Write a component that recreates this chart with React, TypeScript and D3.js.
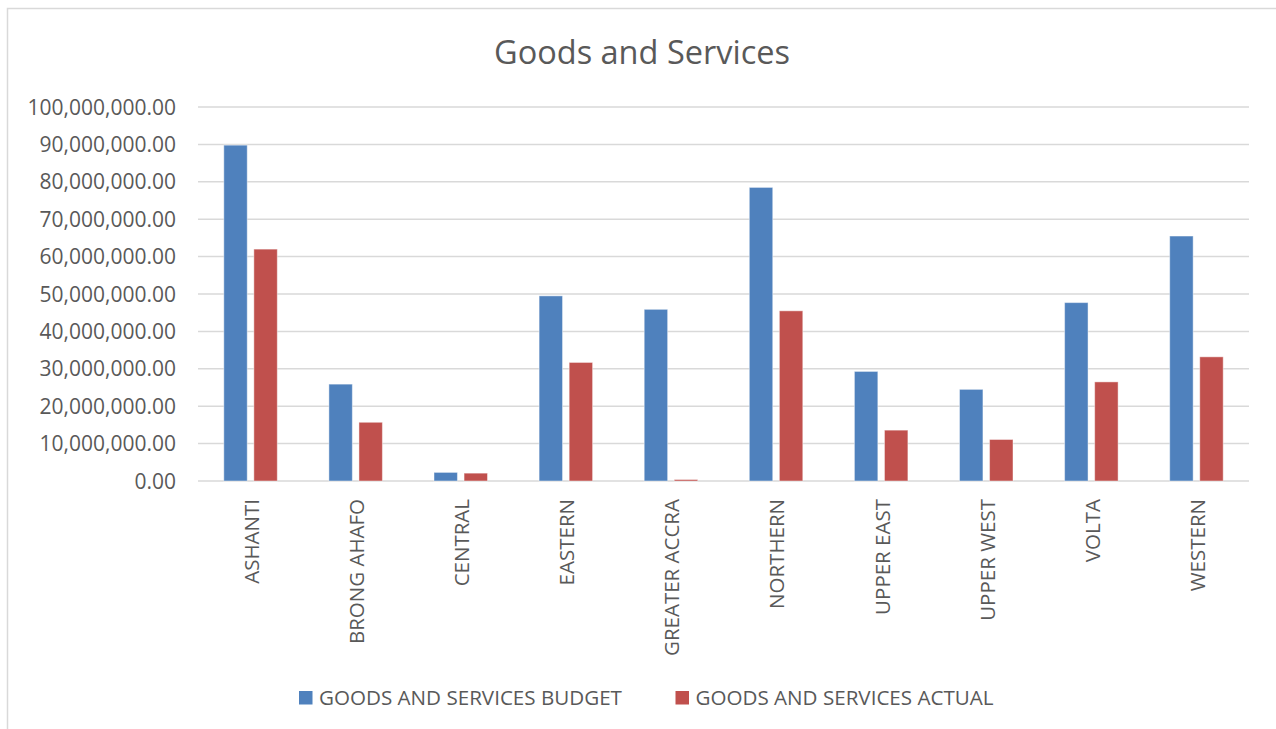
import React from "react";
import * as d3 from "d3";

const categories = ["ASHANTI", "BRONG AHAFO", "CENTRAL", "EASTERN", "GREATER ACCRA", "NORTHERN", "UPPER EAST", "UPPER WEST", "VOLTA", "WESTERN"];
const budget = [89.8e6, 25.9e6, 2.3e6, 49.5e6, 45.9e6, 78.5e6, 29.3e6, 24.5e6, 47.7e6, 65.5e6];
const actual = [62.0e6, 15.7e6, 2.1e6, 31.7e6, 0.4e6, 45.5e6, 13.6e6, 11.1e6, 26.5e6, 33.2e6];
const yTicks = [0, 10e6, 20e6, 30e6, 40e6, 50e6, 60e6, 70e6, 80e6, 90e6, 100e6];
const seriesNames = ["GOODS AND SERVICES BUDGET", "GOODS AND SERVICES ACTUAL"];
const colors = ["#4F81BD", "#C0504D"];
const title = "Goods and Services";

const W = 1276, H = 729;
const FONT = "'Open Sans', sans-serif";
const TXT = "#595959";

export default function App() {
  const x = d3.scaleBand<string>().domain(categories).range([198, 1249]).paddingInner(0).paddingOuter(0);
  const y = d3.scaleLinear().domain([0, 100e6]).range([481, 107]);
  const bw = x.bandwidth();
  const barW = bw * 0.223;
  const gap = bw * 0.063;
  const fmt = d3.format(",.2f");
  const series = [budget, actual];

  return (
    <svg width={W} height={H} style={{ position: "absolute", left: 0, top: 0, background: "#fff" }}>
      <rect x={7.5} y={8.5} width={W} height={H} fill="#fff" stroke="#d9d9d9" strokeWidth={1.5} />
      <text x={642} y={64} textAnchor="middle" fontFamily={FONT} fontSize={32.5} fill={TXT}>{title}</text>
      {yTicks.map((t) => (
        <g key={t}>
          <line x1={198} x2={1249} y1={y(t)} y2={y(t)} stroke="#d9d9d9" strokeWidth={1.5} />
          <text x={176} y={y(t)} dy="0.36em" textAnchor="end" fontFamily={FONT} fontSize={21} fill={TXT}>{fmt(t)}</text>
        </g>
      ))}
      {categories.map((c, i) => {
        const cx = (x(c) as number) + bw / 2;
        return (
          <g key={c}>
            {series.map((s, j) => {
              const bx = j === 0 ? cx - gap / 2 - barW : cx + gap / 2;
              return (
                <rect key={j} x={bx} y={y(s[i])} width={barW} height={y(0) - y(s[i])} fill={colors[j]} stroke="#ffffff" strokeOpacity={0.45} strokeWidth={1} />
              );
            })}
            <text transform={`translate(${cx + 1},499) rotate(-90)`} dy="0.36em" textAnchor="end" fontFamily={FONT} fontSize={20.5} fill={TXT}>{c}</text>
          </g>
        );
      })}
      {seriesNames.map((n, j) => {
        const lx = j === 0 ? 299 : 675.5;
        return (
          <g key={n}>
            <rect x={lx} y={691} width={13.5} height={13.5} fill={colors[j]} />
            <text x={lx + 20} y={704.5} fontFamily={FONT} fontSize={20.6} fill={TXT}>{n}</text>
          </g>
        );
      })}
    </svg>
  );
}
